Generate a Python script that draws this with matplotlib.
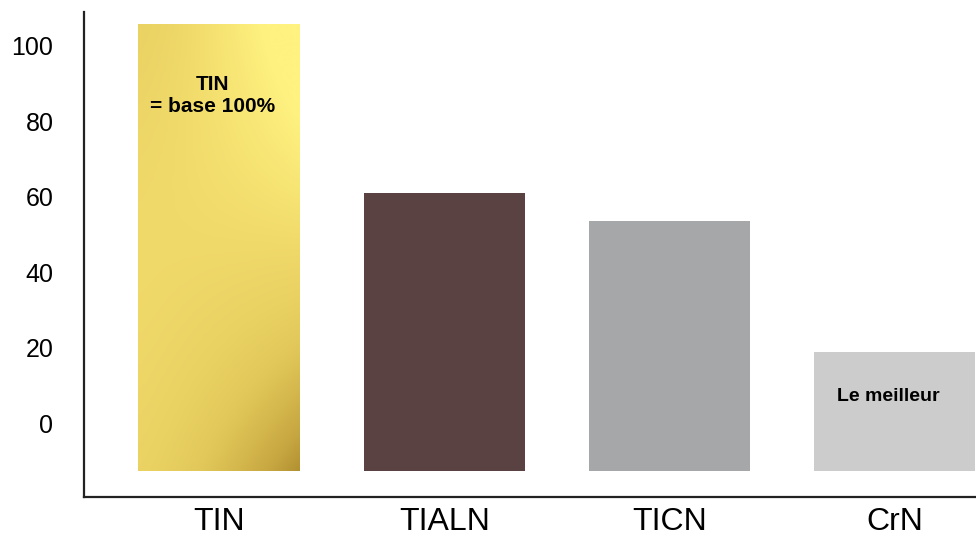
import numpy as np
import matplotlib
matplotlib.use("Agg")
import matplotlib.pyplot as plt
from matplotlib.colors import LinearSegmentedColormap

categories = ["TIN", "TIALN", "TICN", "CrN"]
tops = [105.6, 61.0, 53.6, 18.9]
base = -12.7
colors = ["#e6cc5e", "#5a4142", "#a6a7a9", "#cccccc"]
yticks = [0, 20, 40, 60, 80, 100]

plt.rcParams['font.family'] = ['Liberation Sans', 'DejaVu Sans']

fig = plt.figure(figsize=(9.76, 5.4), dpi=100)
ax = fig.add_axes([84/976, 43/540, 892/976, 485/540])

x = np.arange(len(categories))
heights = [t - base for t in tops]
bars = ax.bar(x, heights, bottom=base, width=0.717, color=colors, zorder=2)

# gold gradient on the TIN bar
gold = LinearSegmentedColormap.from_list(
    "gold", ["#9a7820", "#c6a640", "#e2c85a", "#f0da6a", "#fff280"])
b = bars[0]
u = np.linspace(0, 1, 60)[None, :]
v = np.linspace(1, 0, 200)[:, None]
field = 0.64 + 0.5 * u**1.3 * (2 * v - 1) + 0.1 * np.sin(np.pi * v)
field = np.clip(field, 0, 1)
bx, by, bw, bh = b.get_x(), b.get_y(), b.get_width(), b.get_height()
ax.imshow(field, cmap=gold, vmin=0, vmax=1, aspect='auto',
          extent=[bx, bx + bw, by, by + bh], zorder=3, interpolation='bicubic')
b.set_visible(False)

ax.text(x[0] - 0.03, 86.8, "TIN\n= base 100%", ha='center', va='center',
        fontsize=15, fontweight='bold', linespacing=1.15, zorder=4)
ax.text(x[3] - 0.03, 7.0, "Le meilleur", ha='center', va='center',
        fontsize=14, fontweight='bold', zorder=4)

ax.set_xlim(-0.600, 3.361)
ax.set_ylim(-19.6, 108.9)
ax.set_yticks(yticks)
ax.set_xticks(x)
ax.set_xticklabels(categories, fontsize=23)
ax.tick_params(axis='y', length=0, pad=22, labelsize=18)
ax.tick_params(axis='x', length=0, pad=7)

for s in ['top', 'right']:
    ax.spines[s].set_visible(False)
for s in ['left', 'bottom']:
    ax.spines[s].set_linewidth(1.6)
    ax.spines[s].set_color('#222222')

fig.savefig("out.png", dpi=100)
